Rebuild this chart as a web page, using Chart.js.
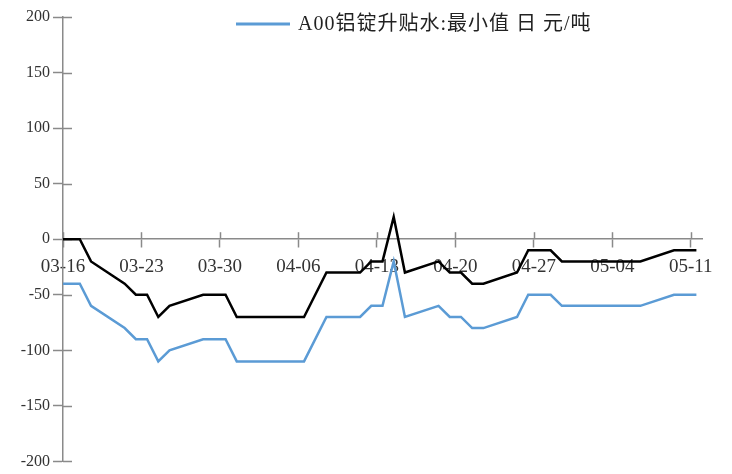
<!DOCTYPE html>
<html><head><meta charset="utf-8">
<script src="https://cdn.jsdelivr.net/npm/chart.js@4/dist/chart.umd.min.js"></script>
<style>html,body{margin:0;padding:0;background:#fff}canvas{display:block}</style>
</head><body>
<canvas id="c" width="732" height="474"></canvas>
<script>
// ---- data ----
const seriesName = 'A00铝锭升贴水:最小值 日 元/吨';
// day offsets from 03-16
const dayOffsets = [0, 1.5, 2.5, 5.5, 6.5, 7.5, 8.5, 9.5, 12.5, 14.5, 15.5, 21.5, 23.5, 26.5, 27.5, 28.5, 29.5, 30.5, 33.5, 34.5, 35.5, 36.5, 37.5, 40.5, 41.5, 43.5, 44.5, 51.5, 54.5, 56.5];
const minValues = [-40, -40, -60, -80, -90, -90, -110, -100, -90, -90, -110, -110, -70, -70, -60, -60, -20, -70, -60, -70, -70, -80, -80, -70, -50, -50, -60, -60, -50, -50];
const otherValues = [0, 0, -20, -40, -50, -50, -70, -60, -50, -50, -70, -70, -30, -30, -20, -20, 20, -30, -20, -30, -30, -40, -40, -30, -10, -10, -20, -20, -10, -10];
const tickDays = [0, 7, 14, 21, 28, 35, 42, 49, 56];
const tickLabels = ['03-16', '03-23', '03-30', '04-06', '04-13', '04-20', '04-27', '05-04', '05-11'];
const yMin = -200, yMax = 200, yStep = 50;

const AXIS = '#8a8a8a';
const toPts = vals => vals.map((v, i) => ({x: dayOffsets[i], y: v}));

// inner halves of the crossing tick marks
const crossTicks = {
  id: 'crossTicks',
  beforeDatasetsDraw(chart) {
    const {ctx, scales: {x, y}} = chart;
    ctx.save();
    ctx.strokeStyle = AXIS;
    ctx.lineWidth = 1.5;
    const y0 = y.getPixelForValue(0);
    x.ticks.forEach(t => {
      const px = Math.round(x.getPixelForValue(t.value)) + 0.5;
      ctx.beginPath(); ctx.moveTo(px, y0); ctx.lineTo(px, y0 - 7); ctx.stroke();
    });
    y.ticks.forEach(t => {
      const py = Math.round(y.getPixelForValue(t.value)) + 0.5;
      ctx.beginPath(); ctx.moveTo(x.left, py); ctx.lineTo(x.left + 9, py); ctx.stroke();
    });
    ctx.restore();
  }
};

// legend drawn inside the plot area, like the reference
const topLegend = {
  id: 'topLegend',
  afterDraw(chart) {
    const ctx = chart.ctx;
    const ds = chart.data.datasets.find(d => d.inLegend);
    ctx.save();
    ctx.strokeStyle = ds.borderColor;
    ctx.lineWidth = 3;
    ctx.beginPath(); ctx.moveTo(236, 24); ctx.lineTo(290, 24); ctx.stroke();
    ctx.font = '20px "Liberation Serif", "Noto Sans CJK SC"';
    ctx.letterSpacing = '1px';
    ctx.fillStyle = '#222';
    ctx.textBaseline = 'middle';
    ctx.fillText(ds.label, 298, 25);
    ctx.restore();
  }
};

new Chart(document.getElementById('c'), {
  type: 'line',
  data: {
    datasets: [
      {label: '', data: toPts(otherValues), borderColor: '#000000', borderWidth: 2.5, pointRadius: 0, tension: 0, fill: false},
      {label: seriesName, inLegend: true, data: toPts(minValues), borderColor: '#5b9bd5', borderWidth: 2.5, pointRadius: 0, tension: 0, fill: false}
    ]
  },
  options: {
    responsive: false,
    animation: false,
    devicePixelRatio: 1,
    layout: {padding: {top: 17, right: 30, bottom: 10, left: 0}},
    plugins: {legend: {display: false}, tooltip: {enabled: false}},
    scales: {
      x: {
        type: 'linear', min: 0, max: 57,
        position: {y: 0},
        afterBuildTicks: s => { s.ticks = tickDays.map(v => ({value: v})); },
        ticks: {
          callback: v => { const i = tickDays.indexOf(v); return i >= 0 ? tickLabels[i] : ''; },
          font: {family: 'Liberation Serif', size: 19}, color: '#333', padding: 8,
          maxRotation: 0, autoSkip: false
        },
        grid: {drawOnChartArea: false, drawTicks: true, tickLength: 8, tickColor: AXIS, tickWidth: 1.5},
        border: {display: true, color: AXIS, width: 1.5}
      },
      y: {
        min: yMin, max: yMax,
        afterFit: s => { s.width = 63; },
        ticks: {stepSize: yStep, font: {family: 'Liberation Serif', size: 16}, color: '#333', padding: 3},
        grid: {drawOnChartArea: false, drawTicks: true, tickLength: 10, tickColor: AXIS, tickWidth: 1.5},
        border: {display: true, color: AXIS, width: 1.5}
      }
    }
  },
  plugins: [crossTicks, topLegend]
});
</script>
</body></html>
